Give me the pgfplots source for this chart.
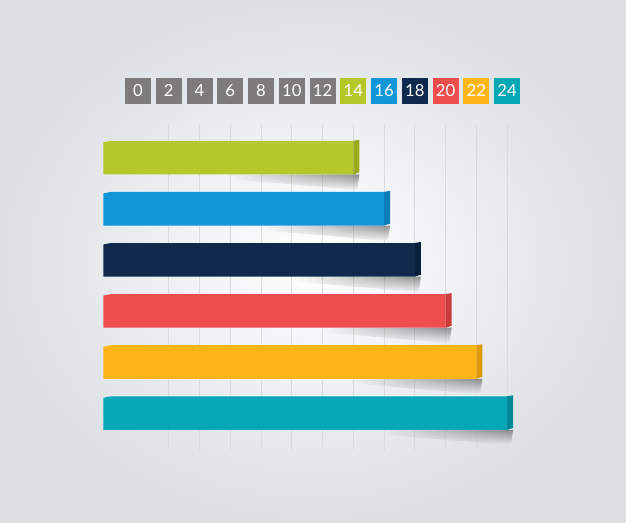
\documentclass[border=0pt]{standalone}
\usepackage{pgfplots}
\pgfplotsset{compat=1.18}
\usetikzlibrary{fadings}
\usepackage{fontspec}
\setmainfont{Lato}

\definecolor{tgray}{HTML}{7D7B7C}
\definecolor{cgreen}{HTML}{B5C82A}\definecolor{sgreen}{HTML}{98AB1E}
\definecolor{cblue}{HTML}{1197D9}\definecolor{sblue}{HTML}{0B7CB6}
\definecolor{cnavy}{HTML}{0E2A4D}\definecolor{snavy}{HTML}{08203B}
\definecolor{cred}{HTML}{EE4D4D}\definecolor{sred}{HTML}{CC3A3A}
\definecolor{corange}{HTML}{FDB616}\definecolor{sorange}{HTML}{DE9A0A}
\definecolor{cteal}{HTML}{03A7B5}\definecolor{steal}{HTML}{028B97}
\definecolor{bgedge}{HTML}{DCE0E4}
\definecolor{bgmid}{HTML}{F3F4F5}

% coloured tick box
\newcommand\tl[2]{{\setlength\fboxsep{0pt}\colorbox{#1}{\parbox[c][19.5pt][c]{19.5pt}{\centering\color{white}#2}}}}

% one 3d bar: row, value, front colour, side colour
\newcommand\threedbar[4]{%
  \pgfmathsetmacro\yt{#1-0.329}\pgfmathsetmacro\yb{#1+0.329}%
  \pgfmathsetmacro\xs{#2-8}\pgfmathsetmacro\xe{#2+0.4}%
  \pgfmathsetmacro\xse{#2+0.25}%
  \pgfmathsetmacro\ysh{#1+0.63}\pgfmathsetmacro\ysl{#1+0.42}%
  \pgfmathsetmacro\xl{-2.26+0.5}%
  \pgfmathsetmacro\ytt{#1-0.35}\pgfmathsetmacro\ybb{#1+0.29}%
  \pgfmathsetmacro\ytl{#1-0.3}%
  \addplot[draw=none, top color=black!75, bottom color=bgmid, fill opacity=0.55, path fading=west]
    coordinates {(\xs,\yb) (\xe,\yb) (\xse,\ysh) (\xs,\ysl)} -- cycle;
  \addplot[draw=none, fill=#3]
    coordinates {(-2.26,\ytl) (\xl,\yt) (#2,\yt) (#2,\yb) (-2.26,\yb)} -- cycle;
  \addplot[draw=none, fill=#4]
    coordinates {(#2,\yt) (\xe,\ytt) (\xe,\ybb) (#2,\yb)} -- cycle;
}

\begin{document}
\begin{tikzpicture}
\begin{axis}[
    width=469.5pt, height=391.5pt,
    scale only axis,
    xmin=-8.976, xmax=31.74,
    ymin=-2.082, ymax=8.133,
    y dir=reverse,
    axis line style={draw=none},
    axis background/.style={inner color=white, outer color=bgedge},
    major tick length=0pt,
    ytick=\empty,
    xtick={0,2,...,24},
    xticklabel pos=upper,
    xticklabels={\tl{tgray}{0},\tl{tgray}{2},\tl{tgray}{4},\tl{tgray}{6},\tl{tgray}{8},\tl{tgray}{10},\tl{tgray}{12},\tl{cgreen}{14},\tl{cblue}{16},\tl{cnavy}{18},\tl{cred}{20},\tl{corange}{22},\tl{cteal}{24}},
    xticklabel style={anchor=center, yshift=-67.9pt, font=\fontsize{12.5}{13}\selectfont, inner sep=0pt},
]

% grid lines
\pgfplotsinvokeforeach{2,4,...,24}{
  \addplot[draw=black!14, line width=0.6pt] coordinates {(#1,0.364) (#1,6.724)};
}

\threedbar{1}{14}{cgreen}{sgreen}
\threedbar{2}{16}{cblue}{sblue}
\threedbar{3}{18}{cnavy}{snavy}
\threedbar{4}{20}{cred}{sred}
\threedbar{5}{22}{corange}{sorange}
\threedbar{6}{24}{cteal}{steal}

\end{axis}
\end{tikzpicture}
\end{document}
